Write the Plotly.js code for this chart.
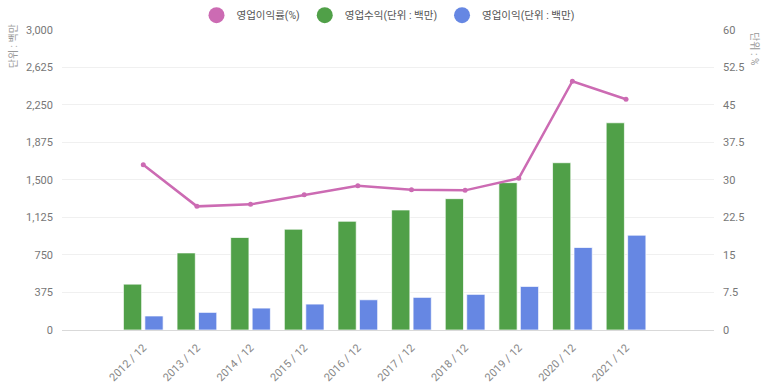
<!DOCTYPE html>
<html>
<head>
<meta charset="utf-8">
<script src="https://cdn.plot.ly/plotly-3.0.1.min.js"></script>
<style>html,body{margin:0;padding:0;background:#fff;}#chart{width:773px;height:389px;}</style>
</head>
<body>
<div id="chart"></div>
<script>
const categories = ["2012 / 12","2013 / 12","2014 / 12","2015 / 12","2016 / 12","2017 / 12","2018 / 12","2019 / 12","2020 / 12","2021 / 12"];
const revenue = [458, 770, 924, 1007, 1086, 1199, 1312, 1472, 1671, 2070];
const operatingProfit = [140, 176, 219, 259, 302, 326, 356, 435, 824, 947];
const operatingMargin = [33.0, 24.7, 25.1, 27.0, 28.8, 28.0, 27.9, 30.3, 49.7, 46.1];
const leftTicks = [0, 375, 750, 1125, 1500, 1875, 2250, 2625, 3000];
const rightTicks = [0, 7.5, 15, 22.5, 30, 37.5, 45, 52.5, 60];
const names = ["영업이익률(%)", "영업수익(단위 : 백만)", "영업이익(단위 : 백만)"];

const PINK = "#CC6BB3", GREEN = "#50A048", BLUE = "#6687E3";
const xi = categories.map((c, i) => i);

const traces = [
  {type: "bar", x: xi, y: revenue, yaxis: "y", marker: {color: GREEN, line: {color: "rgba(255,255,255,0.7)", width: 1}}, showlegend: false, name: names[1]},
  {type: "bar", x: xi, y: operatingProfit, yaxis: "y", marker: {color: BLUE, line: {color: "rgba(255,255,255,0.7)", width: 1}}, showlegend: false, name: names[2]},
  {type: "scatter", mode: "lines+markers", x: xi, y: operatingMargin, yaxis: "y2", line: {color: PINK, width: 2.5}, marker: {color: PINK, size: 5}, showlegend: false, name: names[0]},
  {type: "scatter", mode: "markers", x: [null], y: [null], name: names[0], marker: {color: PINK, size: 16}, showlegend: true},
  {type: "scatter", mode: "markers", x: [null], y: [null], name: names[1], marker: {color: GREEN, size: 16}, showlegend: true},
  {type: "scatter", mode: "markers", x: [null], y: [null], name: names[2], marker: {color: BLUE, size: 16}, showlegend: true}
];

const layout = {
  width: 773, height: 389,
  margin: {l: 62, r: 59, t: 29, b: 59, pad: 0},
  paper_bgcolor: "#fff", plot_bgcolor: "#fff",
  font: {family: "Roboto, 'Noto Sans CJK KR', sans-serif", color: "#666", size: 11},
  barmode: "group", bargap: 0.2, bargroupgap: 0.15,
  showlegend: true,
  legend: {orientation: "h", x: 0.5, xanchor: "center", y: 0.961, yanchor: "middle", yref: "container", font: {size: 10.5, color: "#555"}, itemsizing: "trace", itemwidth: 30, tracegroupgap: 0},
  xaxis: {
    range: [-1.515, 10.64], tickmode: "array", tickvals: xi, ticktext: categories,
    tickangle: -45, showgrid: false, zeroline: false, showline: true, linecolor: "#d9d9d9", linewidth: 1,
    ticks: "", ticklabelstandoff: 6, tickfont: {size: 11, color: "#888"}, fixedrange: true
  },
  yaxis: {
    range: [0, 3000], tickmode: "array", tickvals: leftTicks, tickformat: ",",
    showgrid: true, gridcolor: "#f0f0f0", zeroline: false, showline: false,
    ticks: "", ticklabelstandoff: 8, tickfont: {size: 11, color: "#777"}
  },
  yaxis2: {
    range: [0, 60], tickmode: "array", tickvals: rightTicks, overlaying: "y", side: "right",
    showgrid: false, zeroline: false, showline: false, ticks: "", ticklabelstandoff: 8,
    tickfont: {size: 11, color: "#777"}
  },
  annotations: [
    {text: "단위 : 백만", xref: "paper", yref: "paper", x: -0.075, y: 1.025, xanchor: "center", yanchor: "top", textangle: -90, showarrow: false, font: {size: 10, color: "#999"}},
    {text: "단위 : %", xref: "paper", yref: "paper", x: 1.063, y: 1.0, xanchor: "center", yanchor: "top", textangle: 90, showarrow: false, font: {size: 10, color: "#999"}}
  ]
};

Plotly.newPlot("chart", traces, layout, {displayModeBar: false, staticPlot: true});
</script>
</body>
</html>
